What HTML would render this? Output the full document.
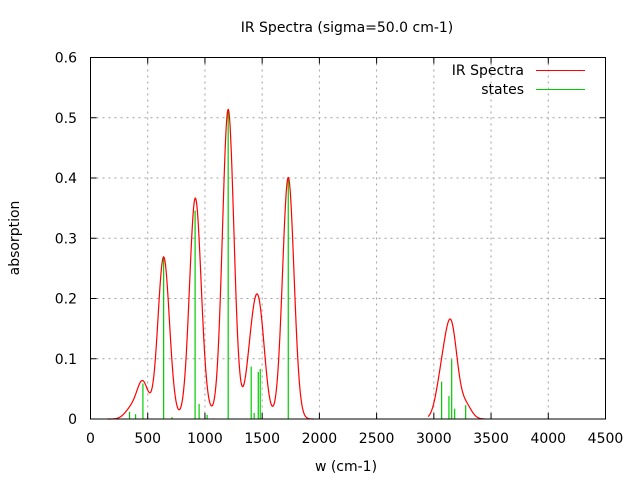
<!DOCTYPE html>
<html><head><meta charset="utf-8"><style>
body{margin:0;background:#fff}
svg text{font-family:"DejaVu Sans","Liberation Sans",sans-serif;font-size:14px;fill:#000}
</style></head><body>
<svg id="chart" width="640" height="480" viewBox="0 0 640 480" xmlns="http://www.w3.org/2000/svg">
<g id="grid"></g>
<g id="ticks"></g>
<g id="sticks"></g>
<g id="curve"></g>
<rect x="90.5" y="57.5" width="515" height="361.5" fill="none" stroke="#000" stroke-width="1"/>
<text x="347" y="32" text-anchor="middle">IR Spectra (sigma=50.0 cm-1)</text>
<text x="346" y="471" text-anchor="middle">w (cm-1)</text>
<text x="19" y="238" text-anchor="middle" transform="rotate(-90 19 238)">absorption</text>
<g>
<text x="524" y="75" text-anchor="end">IR Spectra</text>
<line x1="536" y1="70.5" x2="585" y2="70.5" stroke="#f00"/>
<text x="524" y="94" text-anchor="end">states</text>
<line x1="536" y1="89.5" x2="585" y2="89.5" stroke="#0c0"/>
</g>
</svg>
<script>
const stateW = [341,394,458,639,712,914,949,1019,1071,1203,1404,1430,1466,1483,1728,3068,3132,3156,3182,3278];
const stateH = [0.012,0.008,0.059,0.268,0.003,0.346,0.025,0.007,0.001,0.514,0.087,0.01,0.078,0.083,0.401,0.062,0.038,0.099,0.017,0.023];
const sigma = 50;
const xTicks = [0,500,1000,1500,2000,2500,3000,3500,4000,4500];
const yTicks = [0,0.1,0.2,0.3,0.4,0.5,0.6];
const yTickLabels = ["0","0.1","0.2","0.3","0.4","0.5","0.6"];
const curveRanges = [[150,1950],[2950,3450]];

const NS="http://www.w3.org/2000/svg";
const X0=90.5,X1=605.5,Y0=419,Y1=57.5;
const sx=v=>X0+(v-0)/(4500-0)*(X1-X0);
const sy=v=>Y0-(v-0)/(0.6-0)*(Y0-Y1);
function mk(tag,attrs,parent){const e=document.createElementNS(NS,tag);for(const k in attrs)e.setAttribute(k,attrs[k]);parent.appendChild(e);return e;}
const grid=document.getElementById('grid'),ticks=document.getElementById('ticks');
xTicks.forEach((t,i)=>{
  const x=sx(t);
  if(i>0&&i<xTicks.length-1){const g=mk('line',{x1:x,y1:Y1,x2:x,y2:Y0,stroke:'#a0a0a0','stroke-dasharray':'2,4'},grid);
  
  }
  mk('line',{x1:x,y1:Y0,x2:x,y2:Y0-6,stroke:'#000'},ticks);
  mk('line',{x1:x,y1:Y1,x2:x,y2:Y1+6,stroke:'#000'},ticks);
  const tx=mk('text',{x:x,y:443,'text-anchor':'middle'},ticks);tx.textContent=t;
  
  
});
yTicks.forEach((t,i)=>{
  const y=sy(t);
  if(i>0&&i<yTicks.length-1){const g=mk('line',{x1:X0,y1:y,x2:X1,y2:y,stroke:'#a0a0a0','stroke-dasharray':'2,4'},grid);
  
  }
  mk('line',{x1:X0,y1:y,x2:X0+6,y2:y,stroke:'#000'},ticks);
  mk('line',{x1:X1,y1:y,x2:X1-6,y2:y,stroke:'#000'},ticks);
  const tx=mk('text',{x:77,y:y+5,'text-anchor':'end'},ticks);tx.textContent=yTickLabels[i];
  
  
});
const sticks=document.getElementById('sticks');
stateW.forEach((w,i)=>{
  const l=mk('line',{x1:sx(w),y1:Y0,x2:sx(w),y2:sy(stateH[i]),stroke:'#0c0','stroke-width':1.2},sticks);
  
  
});
const curve=document.getElementById('curve');
function spec(x){let s=0;for(let i=0;i<stateW.length;i++){const d=x-stateW[i];s+=stateH[i]*Math.exp(-d*d/(2*sigma*sigma));}return s;}
curveRanges.forEach(r=>{
  let d='';for(let x=r[0];x<=r[1];x+=5){d+=(d?'L':'M')+sx(x).toFixed(2)+','+sy(spec(x)).toFixed(2);}
  const p=mk('path',{d:d,fill:'none',stroke:'#f00','stroke-width':1.2},curve);
  
  
});
</script>
</body></html>
